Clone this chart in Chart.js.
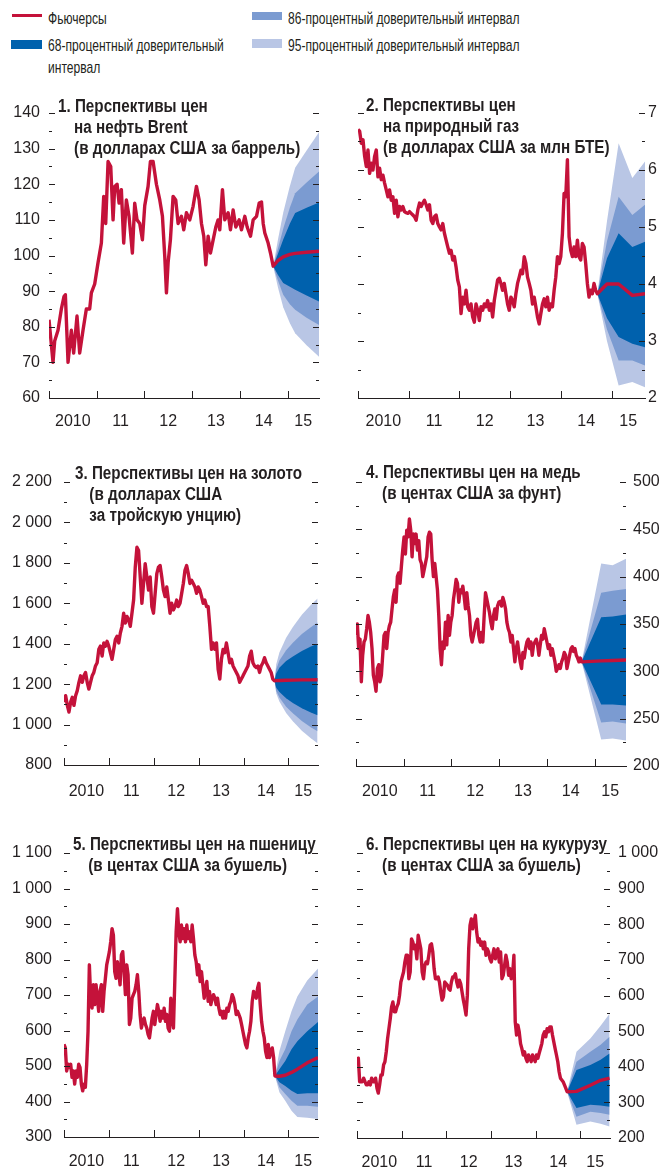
<!DOCTYPE html>
<html lang="ru">
<head>
<meta charset="UTF-8">
<title>Перспективы цен на сырьевые товары</title>
<script src="https://cdn.jsdelivr.net/npm/chart.js"></script>
<style>
  body { margin: 0; background: #fff; }
  #page {
    position: relative; width: 662px; height: 1170px; overflow: hidden;
    font-family: "Liberation Sans Narrow", "Arial Narrow", "Liberation Sans", sans-serif;
    color: #231f20;
  }
  canvas { position: absolute; }
  .key {
    position: absolute; font-size: 17px; line-height: 22px; white-space: nowrap;
    transform: scaleX(0.71); transform-origin: 0 0;
  }
  .swatch { position: absolute; }
  .title {
    position: absolute; font-weight: bold; font-size: 17.5px; line-height: 21px;
    white-space: nowrap; transform: scaleX(0.87); transform-origin: 0 0;
  }
  .title div + div { padding-left: var(--ind); }
</style>
</head>
<body>
<div id="page">
  <span class="swatch" style="left:12px;top:14px;width:30px;height:2.5px;background:#c4123a"></span>
  <div class="key" style="left:48px;top:8px">Фьючерсы</div>
  <span class="swatch" style="left:11px;top:40px;width:31px;height:9px;background:#0061ad"></span>
  <div class="key" style="left:48px;top:35px">68-процентный доверительный<br>интервал</div>
  <span class="swatch" style="left:252px;top:12px;width:30px;height:8px;background:#7b9bd1"></span>
  <div class="key" style="left:288px;top:8px">86-процентный доверительный интервал</div>
  <span class="swatch" style="left:252px;top:39px;width:30px;height:9px;background:#b9c6e5"></span>
  <div class="key" style="left:288px;top:35px">95-процентный доверительный интервал</div>

  <canvas id="oil"></canvas>
  <canvas id="gas"></canvas>
  <canvas id="gold"></canvas>
  <canvas id="copper"></canvas>
  <canvas id="wheat"></canvas>
  <canvas id="corn"></canvas>

  <div class="title" style="left:58px;top:96px;--ind:18.5px">
    <div>1. Перспективы цен</div><div>на нефть Brent</div><div>(в долларах США за баррель)</div></div>
  <div class="title" style="left:366px;top:95px;--ind:19.5px">
    <div>2. Перспективы цен</div><div>на природный газ</div><div>(в долларах США за млн БТЕ)</div></div>
  <div class="title" style="left:75px;top:463px;--ind:16.5px">
    <div>3. Перспективы цен на золото</div><div>(в долларах США</div><div>за тройскую унцию)</div></div>
  <div class="title" style="left:366px;top:462px;--ind:18.5px">
    <div>4. Перспективы цен на медь</div><div>(в центах США за фунт)</div></div>
  <div class="title" style="left:73px;top:834px;--ind:17.5px">
    <div>5. Перспективы цен на пшеницу</div><div>(в центах США за бушель)</div></div>
  <div class="title" style="left:366px;top:834px;--ind:18.5px">
    <div>6. Перспективы цен на кукурузу</div><div>(в центах США за бушель)</div></div>
</div>

<script>
// x axis labels (one per calendar year)
const yearLabels = ['2010', '11', '12', '13', '14', '15'];
const xFrom = 2010, xTo = 2015.66;

// --- Brent, USD per barrel
const brentT = [2010.000, 2010.084, 2010.119, 2010.189, 2010.259, 2010.315, 2010.343, 2010.399, 2010.469, 2010.517,
  2010.587, 2010.643, 2010.713, 2010.783, 2010.853, 2010.888, 2010.958, 2011.028, 2011.098, 2011.147,
  2011.189, 2011.238, 2011.294, 2011.343, 2011.378, 2011.427, 2011.469, 2011.517, 2011.566, 2011.622,
  2011.678, 2011.748, 2011.797, 2011.846, 2011.902, 2011.958, 2012.007, 2012.077, 2012.126, 2012.182,
  2012.252, 2012.322, 2012.378, 2012.427, 2012.462, 2012.497, 2012.545, 2012.601, 2012.657, 2012.706,
  2012.776, 2012.825, 2012.881, 2012.951, 2013.021, 2013.091, 2013.147, 2013.196, 2013.245, 2013.287,
  2013.336, 2013.385, 2013.441, 2013.497, 2013.545, 2013.580, 2013.636, 2013.685, 2013.755, 2013.804,
  2013.860, 2013.916, 2013.986, 2014.035, 2014.105, 2014.154, 2014.224, 2014.280, 2014.350, 2014.406,
  2014.455, 2014.490, 2014.524, 2014.594, 2014.643, 2014.699];
const brentV = [82, 70, 76, 79, 85, 88.5, 89, 70, 79, 72.6, 83, 72.6, 79, 85, 85, 89.5, 92,
  98, 103.5, 116.6, 109, 126.4, 125, 110, 119.4, 120, 114.7, 118.5, 103.5, 115.6, 111, 100.7, 114.7, 110, 109, 104.4,
  114, 119.4, 126.4, 126.4, 120, 115.6, 111, 99.7, 89.5, 98, 104.4, 116.6, 115.6, 109, 111, 107.2, 112, 110,
  113.8, 119.4, 115.6, 109, 105.4, 97.4, 105.4, 100.7, 104.4, 108, 110, 107.2, 118.5, 110, 112, 107.2, 112.8, 108, 110,
  107.2, 111, 108, 105.4, 110, 111, 114.7, 115, 109, 106.3, 103.5, 100.7, 97];
const brentFanT = [2014.70, 2014.80, 2014.91, 2015.05, 2015.16, 2015.40, 2015.66];
const brentFut  = [97, 98.6, 99.6, 100.3, 100.6, 100.9, 101.2];
const brentHi95 = [97, 104.5, 112, 119.5, 124.6, 129.5, 134.6];
const brentLo95 = [97, 91, 85.5, 81, 78.2, 74.8, 71.6];
const brentHi86 = [97, 102, 107.5, 113.5, 117.5, 120.5, 123.6];
const brentLo86 = [97, 93, 89, 86.3, 84.8, 82.5, 80.5];
const brentHi68 = [97, 100.5, 104.5, 109, 111.9, 113.4, 114.9];
const brentLo68 = [97, 94.5, 92.3, 91.2, 90.4, 88.8, 87.1];

// --- natural gas, USD per mmBtu (regular observations 2010.0 .. 2014.72)
const gasV = [6.71, 6.68, 6.47, 6.53, 6.24, 6.06, 6.35, 5.94, 6.12, 6.00, 6.24, 6.35, 5.88, 6.03, 5.83, 5.91, 5.77,
  5.65, 5.53, 5.65, 5.47, 5.53, 5.24, 5.47, 5.18, 5.36, 5.30, 5.36, 5.27, 5.25, 5.24, 5.27, 5.24, 5.21, 5.18, 5.12,
  5.30, 5.42, 5.36, 5.42, 5.47, 5.39, 5.30, 5.39, 5.12, 5.06, 5.18, 5.21, 5.06, 5.00, 4.95, 5.06, 4.89, 4.77, 4.65,
  4.54, 4.59, 4.42, 4.48, 4.30, 4.07, 3.95, 3.48, 3.77, 3.65, 3.89, 3.60, 3.54, 3.65, 3.42, 3.33, 3.65, 3.54, 3.36,
  3.60, 3.54, 3.65, 3.60, 3.71, 3.54, 3.65, 3.42, 3.71, 3.89, 4.07, 4.10, 4.01, 3.89, 4.01, 3.83, 3.65, 3.54, 3.77,
  3.71, 3.60, 3.83, 4.01, 4.12, 4.24, 4.18, 4.48, 4.36, 4.12, 4.01, 3.89, 3.65, 3.77, 3.60, 3.42, 3.30, 3.48, 3.65,
  3.74, 3.60, 3.77, 3.54, 3.65, 3.60, 3.89, 4.12, 4.48, 4.36, 4.48, 4.89, 5.59, 5.53, 6.18, 4.83, 4.59, 4.48, 4.65,
  4.48, 4.77, 4.48, 4.42, 4.71, 4.65, 4.36, 4.01, 3.77, 3.89, 3.83, 4.01, 3.89, 3.83];
const gasFanT = [2014.72, 2014.91, 2015.14, 2015.41, 2015.66];
const gasFut  = [3.83, 4.0, 4.0, 3.80, 3.83];
const gasHi95 = [3.83, 5.1, 6.47, 5.86, 6.15];
const gasLo95 = [3.83, 3.0, 2.22, 2.28, 2.19];
const gasHi86 = [3.83, 4.75, 5.53, 5.21, 5.39];
const gasLo86 = [3.83, 3.2, 2.66, 2.66, 2.57];
const gasHi68 = [3.83, 4.45, 4.89, 4.65, 4.74];
const gasLo68 = [3.83, 3.4, 3.07, 2.95, 2.89];

// --- gold, USD per troy ounce (2010.0 .. 2014.69)
const goldV = [1111, 1143, 1095, 1062, 1111, 1135, 1095, 1143, 1168, 1209, 1241, 1209, 1241, 1258, 1209, 1176,
  1209, 1241, 1258, 1290, 1306, 1372, 1388, 1339, 1404, 1388, 1412, 1388, 1355, 1323, 1372, 1421, 1437, 1404, 1453,
  1486, 1551, 1502, 1535, 1518, 1486, 1551, 1616, 1779, 1877, 1861, 1730, 1600, 1698, 1796, 1730, 1665, 1730, 1584,
  1551, 1649, 1747, 1779, 1787, 1730, 1665, 1633, 1681, 1616, 1551, 1600, 1567, 1584, 1616, 1584, 1600, 1649, 1698,
  1763, 1787, 1747, 1698, 1714, 1698, 1681, 1649, 1681, 1665, 1633, 1600, 1616, 1584, 1584, 1486, 1372, 1404, 1372,
  1404, 1274, 1225, 1323, 1372, 1355, 1404, 1355, 1306, 1323, 1290, 1274, 1258, 1241, 1209, 1225, 1241, 1258, 1274,
  1290, 1339, 1363, 1306, 1290, 1282, 1290, 1258, 1290, 1306, 1331, 1306, 1290, 1274, 1258, 1225, 1217];
const goldFanT = [2014.69, 2014.73, 2014.80, 2014.95, 2015.10, 2015.30, 2015.50, 2015.65];
const goldFut  = [1217, 1217.5, 1218, 1219, 1220, 1221, 1221, 1222];
const goldHi95 = [1217, 1298, 1357, 1430, 1483, 1543, 1592, 1624];
const goldLo95 = [1217, 1154, 1114, 1057, 1017, 970, 932, 907];
const goldHi86 = [1217, 1274, 1317, 1368, 1405, 1448, 1482, 1505];
const goldLo86 = [1217, 1166, 1134, 1088, 1056, 1018, 987, 967];
const goldHi68 = [1217, 1253, 1281, 1314, 1337, 1364, 1386, 1400];
const goldLo68 = [1217, 1182, 1161, 1130, 1107, 1081, 1060, 1046];

// --- copper, US cents per pound (2010.0 .. 2014.73)
const copperV = [338, 350, 324, 334, 289, 317, 331, 334, 345, 359, 352, 341, 324, 296, 289, 279, 303, 307, 289, 296,
  317, 338, 341, 324, 341, 348, 352, 366, 379, 386, 373, 400, 404, 393, 411, 428, 442, 424, 449, 442,
  461, 449, 421, 445, 435, 445, 428, 438, 418, 414, 400, 407, 414, 421, 442, 447, 445, 418, 400, 414,
  400, 386, 359, 324, 307, 331, 324, 352, 328, 359, 338, 352, 359, 376, 386, 397, 393, 373, 386, 383,
  390, 379, 366, 383, 369, 359, 338, 331, 338, 345, 352, 355, 338, 331, 341, 331, 359, 383, 376, 369,
  362, 352, 345, 359, 366, 355, 369, 373, 374, 369, 378, 373, 366, 352, 345, 341, 331, 338, 324, 310,
  324, 331, 320, 310, 303, 320, 314, 324, 331, 334, 324, 331, 317, 328, 331, 334, 328, 317, 328, 338,
  334, 345, 338, 331, 324, 328, 317, 324, 317, 310, 300, 303, 307, 303, 310, 314, 320, 317, 303, 310,
  317, 324, 326, 321, 324, 317, 314, 310, 314, 310];
const copperFanT = [2014.73, 2015.14, 2015.38, 2015.66];
const copperFut  = [310, 311, 311.5, 312];
const copperHi95 = [310, 414, 412, 419];
const copperLo95 = [310, 228, 229, 227];
const copperHi86 = [310, 383, 385, 387];
const copperLo86 = [310, 246, 247, 245];
const copperHi68 = [310, 357, 358, 360];
const copperLo68 = [310, 265, 265, 264];

// --- wheat, US cents per bushel (2010.0 .. 2014.70)
const wheatV = [561, 551, 486, 505, 496, 505, 468, 486, 449, 486, 468, 505, 496, 449, 430, 449, 440, 505, 598, 785,
  691, 663, 729, 673, 729, 691, 654, 710, 729, 654, 710, 747, 785, 803, 822, 850, 887, 869, 766, 747,
  794, 766, 729, 813, 822, 766, 701, 785, 757, 617, 635, 691, 701, 710, 729, 757, 710, 645, 607, 626,
  635, 617, 607, 589, 579, 607, 635, 654, 617, 645, 673, 654, 626, 654, 635, 663, 626, 645, 607, 598,
  691, 635, 607, 738, 878, 943, 878, 850, 897, 859, 887, 850, 897, 859, 878, 850, 897, 859, 813, 794,
  757, 785, 738, 766, 729, 691, 719, 738, 682, 710, 673, 691, 701, 691, 673, 691, 663, 645, 654, 635,
  654, 635, 663, 654, 673, 682, 701, 691, 673, 645, 654, 645, 635, 617, 598, 579, 561, 551, 579, 598,
  626, 682, 710, 701, 691, 719, 733, 673, 626, 598, 579, 542, 524, 561, 524, 542, 551, 524, 472];
const wheatFanT = [2014.70, 2014.80, 2014.93, 2015.07, 2015.20, 2015.42, 2015.66];
const wheatFut  = [472, 471, 474, 482, 491, 509, 524];
const wheatHi95 = [472, 542, 598, 654, 696, 741, 775];
const wheatLo95 = [472, 426, 402, 374, 356, 354, 351];
const wheatHi86 = [472, 514, 547, 598, 631, 673, 696];
const wheatLo86 = [472, 440, 421, 402, 388, 388, 385];
const wheatHi68 = [472, 491, 514, 547, 570, 598, 624];
const wheatLo68 = [472, 454, 444, 430, 421, 423, 423];

// --- corn, US cents per bushel (2010.0 .. 2014.70)
const cornV = [414, 424, 358, 358, 358, 368, 358, 349, 349, 358, 349, 368, 358, 358, 368, 340, 326, 349, 377, 377,
  405, 414, 442, 479, 507, 535, 568, 582, 554, 554, 568, 577, 601, 638, 652, 666, 694, 713, 713, 647,
  666, 759, 750, 731, 741, 703, 769, 750, 731, 666, 647, 685, 694, 689, 713, 741, 745, 722, 675, 647,
  647, 652, 638, 610, 587, 596, 638, 633, 629, 619, 615, 638, 652, 652, 661, 638, 624, 643, 633, 610,
  587, 568, 545, 601, 731, 797, 815, 787, 806, 825, 778, 750, 759, 741, 750, 731, 750, 713, 731, 722,
  703, 694, 713, 731, 703, 722, 731, 694, 722, 647, 657, 685, 713, 694, 657, 675, 647, 657, 713, 526,
  489, 517, 498, 465, 451, 433, 442, 424, 414, 433, 424, 414, 433, 424, 414, 433, 424, 438, 451, 465,
  489, 498, 484, 507, 498, 512, 512, 489, 470, 451, 433, 414, 386, 368, 363, 358, 349, 340, 330];
const cornFanT = [2014.70, 2014.91, 2015.22, 2015.45, 2015.65];
const cornFut  = [330, 331, 348, 362, 368];
const cornHi95 = [330, 442, 479, 515, 549];
const cornLo95 = [330, 237, 246, 240, 232];
const cornHi86 = [330, 414, 442, 462, 484];
const cornLo86 = [330, 260, 274, 270, 265];
const cornHi68 = [330, 391, 405, 420, 437];
const cornLo68 = [330, 284, 293, 291, 288];

const INK = '#231f20';
const RED = '#c4123a';
const C68 = '#0061ad', C86 = '#7b9bd1', C95 = '#b9c6e5';
const FONT = '"Liberation Sans Narrow", "Arial Narrow", "Liberation Sans", sans-serif';

Chart.defaults.font.family = FONT;
Chart.defaults.font.size = 16;
Chart.defaults.color = INK;

function series(ts, vs) { return ts.map((t, i) => ({x: t, y: vs[i]})); }
function evenly(vs, from, to) {
  const step = (to - from) / (vs.length - 1);
  return vs.map((v, i) => ({x: from + i * step, y: v}));
}
function spaced(v) { return String(v).replace(/\B(?=(\d{3})+(?!\d))/g, ' '); }

// inward tick marks on both vertical edges + year marks on the time axis
const tickMarks = {
  id: 'tickMarks',
  afterDatasetsDraw(chart) {
    const {ctx, chartArea: a, scales: {x, y}} = chart;
    ctx.save();
    ctx.strokeStyle = INK;
    ctx.lineWidth = 1;
    ctx.beginPath();
    y.ticks.forEach(t => {
      const py = Math.round(y.getPixelForValue(t.value)) + 0.5;
      const len = t.label ? 6 : 3;
      ctx.moveTo(a.left, py); ctx.lineTo(a.left + len, py);
      ctx.moveTo(a.right - len, py); ctx.lineTo(a.right, py);
    });
    for (let yr = 2010; yr <= 2015; yr++) {
      const px = Math.round(x.getPixelForValue(yr)) + 0.5;
      ctx.moveTo(px, a.bottom); ctx.lineTo(px, a.bottom - 7);
    }
    ctx.stroke();
    ctx.restore();
  }
};

const labelAt = yearLabels.map((_, i) => i < yearLabels.length - 1 ? xFrom + i + 0.5 : (xFrom + i + xTo) / 2);

function drawPanel(p) {
  const [bl, bt, bw, bh] = p.box;
  const [pl, pt, pr, pb] = p.plot;
  const xH = 32;
  const cv = document.getElementById(p.id);
  cv.width = bw; cv.height = bh;
  cv.style.left = bl + 'px'; cv.style.top = bt + 'px';
  cv.style.width = bw + 'px'; cv.style.height = bh + 'px';

  const left = p.side === 'left';
  const yW = left ? pl - bl : bl + bw - pr;
  const padding = {
    top: pt - bt,
    bottom: bh - (pb - bt) - xH,
    left: left ? 0 : pl - bl,
    right: left ? bl + bw - pr : 0
  };

  const [ymin, ymax, minor, major] = p.y;
  const band = vs => series(p.fanT, vs);
  const clear = {borderColor: 'transparent', borderWidth: 0, fill: false};

  new Chart(cv, {
    type: 'line',
    data: {
      datasets: [
        {label: 'Фьючерсы', data: p.hist.concat(series(p.fanT, p.fut).slice(1)),
          borderColor: RED, borderWidth: 3.4, fill: false, borderJoinStyle: 'round'},
        {...clear, data: band(p.hi68), backgroundColor: C68, fill: '+1'},
        {...clear, data: band(p.lo68)},
        {...clear, data: band(p.hi86), backgroundColor: C86, fill: '+1'},
        {...clear, data: band(p.lo86)},
        {...clear, data: band(p.hi95), backgroundColor: C95, fill: '+1'},
        {...clear, data: band(p.lo95)}
      ]
    },
    options: {
      responsive: false,
      animation: false,
      devicePixelRatio: 1,
      layout: {padding},
      elements: {point: {radius: 0}, line: {tension: 0}},
      plugins: {legend: {display: false}, tooltip: {enabled: false}},
      scales: {
        x: {
          type: 'linear', min: xFrom, max: xTo,
          grid: {display: false},
          border: {display: true, color: INK, width: 1},
          afterBuildTicks: s => { s.ticks = labelAt.map(v => ({value: v})); },
          afterFit: s => { s.height = xH; },
          ticks: {autoSkip: false, maxRotation: 0, padding: p.xPad, callback: (v, i) => yearLabels[i]}
        },
        y: {
          position: p.side, min: ymin, max: ymax,
          grid: {display: false, drawTicks: false},
          border: {display: false},
          afterFit: s => { s.width = yW; },
          ticks: {
            stepSize: minor, autoSkip: false, padding: p.pad,
            callback: v => Math.abs(v / major - Math.round(v / major)) < 1e-6 ? spaced(v) : ''
          }
        }
      }
    },
    plugins: [tickMarks]
  });
}

const panels = [
  {id: 'oil', box: [0, 90, 331, 345], plot: [49, 113, 319, 398], side: 'left', pad: 9, xPad: 6, y: [60, 140, 5, 10],
    hist: series(brentT, brentV), fanT: brentFanT, fut: brentFut,
    hi68: brentHi68, lo68: brentLo68, hi86: brentHi86, lo86: brentLo86, hi95: brentHi95, lo95: brentLo95},
  {id: 'gas', box: [331, 90, 331, 345], plot: [358, 113, 645, 398], side: 'right', pad: 3, xPad: 6, y: [2, 7, 0.5, 1],
    hist: evenly(gasV, 2010, 2014.72), fanT: gasFanT, fut: gasFut,
    hi68: gasHi68, lo68: gasLo68, hi86: gasHi86, lo86: gasLo86, hi95: gasHi95, lo95: gasLo95},
  {id: 'gold', box: [0, 455, 331, 345], plot: [64, 482, 318, 765], side: 'left', pad: 12, xPad: 9, y: [800, 2200, 100, 200],
    hist: evenly(goldV, 2010, 2014.69), fanT: goldFanT, fut: goldFut,
    hi68: goldHi68, lo68: goldLo68, hi86: goldHi86, lo86: goldLo86, hi95: goldHi95, lo95: goldLo95},
  {id: 'copper', box: [331, 455, 331, 345], plot: [356, 482, 626, 766], side: 'right', pad: 7, xPad: 8, y: [200, 500, 25, 50],
    hist: evenly(copperV, 2010, 2014.73), fanT: copperFanT, fut: copperFut,
    hi68: copperHi68, lo68: copperLo68, hi86: copperHi86, lo86: copperLo86, hi95: copperHi95, lo95: copperLo95},
  {id: 'wheat', box: [0, 830, 331, 340], plot: [64, 853, 318, 1137], side: 'left', pad: 12, xPad: 7, y: [300, 1100, 50, 100],
    hist: evenly(wheatV, 2010, 2014.70), fanT: wheatFanT, fut: wheatFut,
    hi68: wheatHi68, lo68: wheatLo68, hi86: wheatHi86, lo86: wheatLo86, hi95: wheatHi95, lo95: wheatLo95},
  {id: 'corn', box: [331, 830, 331, 340], plot: [357, 853, 610, 1138], side: 'right', pad: 8, xPad: 7, y: [200, 1000, 50, 100],
    hist: evenly(cornV, 2010, 2014.70), fanT: cornFanT, fut: cornFut,
    hi68: cornHi68, lo68: cornLo68, hi86: cornHi86, lo86: cornLo86, hi95: cornHi95, lo95: cornLo95}
];

panels.forEach(drawPanel);
</script>
</body>
</html>
